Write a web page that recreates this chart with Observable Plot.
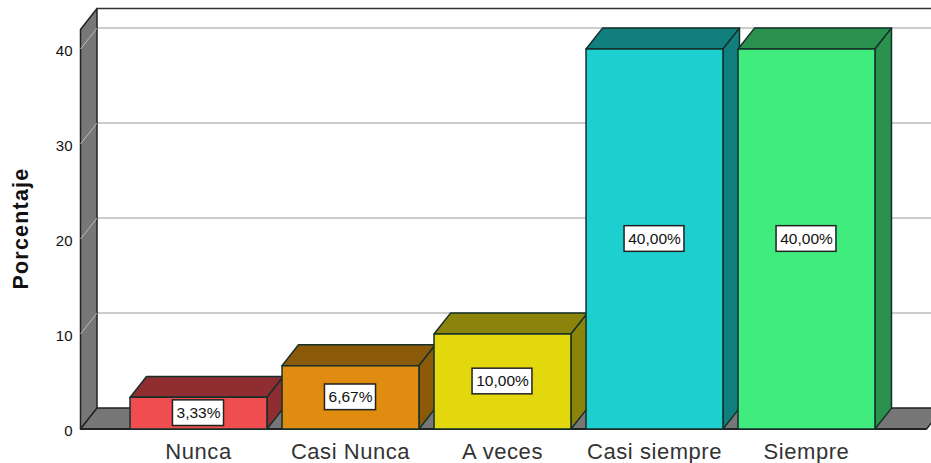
<!DOCTYPE html>
<html>
<head>
<meta charset="utf-8">
<style>html,body{margin:0;padding:0;background:#fff;overflow:hidden}
svg{display:block}
g[font-size="22"]{letter-spacing:.55px}
g[font-size="21.5"]{letter-spacing:1.2px}</style>
<script src="https://cdn.jsdelivr.net/npm/d3@7"></script>
<script src="https://cdn.jsdelivr.net/npm/@observablehq/plot@0.6"></script>
</head>
<body>
<div id="chart"></div>
<script>
const categories = ["Nunca", "Casi Nunca", "A veces", "Casi siempre", "Siempre"];
const values = [3.33, 6.67, 10, 40, 40];
const valueLabels = ["3,33%", "6,67%", "10,00%", "40,00%", "40,00%"];
const frontColors = ["#f04d50", "#e08c10", "#e3d70d", "#1dcfcf", "#40ec7d"];
const shadeColors = ["#8f2d30", "#8a5a08", "#8c840a", "#127f7f", "#2a924e"];
const yTicks = [0, 10, 20, 30, 40];

// 3D projection, in data units
const depthX = 0.1086, depthY = 2.2, barW = 0.901;
const yTopWall = 44.26;
const xL = -0.7763, xR = 4.79;

const faces = [];
const addFace = (key, color, pts) => {
  pts.concat([pts[0]]).forEach(([x, y]) => faces.push({key, color, x, y}));
};
addFace("wall", "#777777", [[xL, yTopWall - depthY], [xL + depthX, yTopWall], [xL + depthX, depthY], [xL, 0]]);
addFace("floor", "#777777", [[xL, 0], [xL + depthX, depthY], [xR + depthX, depthY], [xR, 0]]);
const bars = categories.map((c, i) => {
  const x0 = i - barW / 2, x1 = i + barW / 2, v = values[i];
  return {c, i, x0, x1, v};
});
const barFaces = [];
const addBar = (key, color, pts) => {
  pts.concat([pts[0]]).forEach(([x, y]) => barFaces.push({key, color, x, y}));
};
bars.forEach(b => {
  addBar("top" + b.i, shadeColors[b.i], [[b.x0, b.v], [b.x0 + depthX, b.v + depthY], [b.x1 + depthX, b.v + depthY], [b.x1, b.v]]);
  addBar("side" + b.i, shadeColors[b.i], [[b.x1, 0], [b.x1 + depthX, depthY], [b.x1 + depthX, b.v + depthY], [b.x1, b.v]]);
  addBar("front" + b.i, frontColors[b.i], [[b.x0, 0], [b.x0, b.v], [b.x1, b.v], [b.x1, 0]]);
});
const boxH = 1.35;
const boxW = i => values[i] < 10 ? 0.168 : 0.197;
const gridRows = yTicks.filter(t => t > 0);

const chart = Plot.plot({
  width: 931,
  height: 463,
  marginTop: 0, marginBottom: 0, marginLeft: 0, marginRight: 0,
  style: {background: "#fff", fontFamily: "Liberation Sans, Arial, sans-serif"},
  x: {type: "linear", domain: [-198 / 152, (931 - 198) / 152], range: [0, 931], axis: null},
  y: {type: "linear", domain: [(428.5 - 463) / 9.5, 428.5 / 9.5], range: [463, 0], axis: null},
  marks: [
    Plot.ruleY(gridRows, {y: d => d + depthY, x1: xL + depthX, x2: xR + 1, stroke: "#cccccc", strokeWidth: 2}),
    Plot.line(faces, {x: "x", y: "y", z: "key", fill: "color", stroke: "#222", strokeWidth: 1.5}),
    Plot.link(gridRows, {x1: xL, x2: xL + depthX, y1: d => d, y2: d => d + depthY, stroke: "#bbbbbb", strokeWidth: 1}),
    Plot.ruleY([yTopWall], {x1: xL + depthX, x2: xR + 1, stroke: "#333", strokeWidth: 1.5}),
    Plot.ruleY([0], {x1: xL, x2: xR, stroke: "#222", strokeWidth: 2}),
    Plot.line(barFaces, {x: "x", y: "y", z: "key", fill: "color", stroke: "#14302a", strokeWidth: 1.5}),
    Plot.rect(bars, {x1: d => d.i - boxW(d.i), x2: d => d.i + boxW(d.i), y1: d => d.v / 2 - boxH, y2: d => d.v / 2 + boxH, fill: "#fff", stroke: "#222", strokeWidth: 1.5}),
    Plot.text(bars, {x: "i", y: d => d.v / 2, text: d => valueLabels[d.i], fontSize: 15.5, fill: "#111"}),
    Plot.text(bars, {x: "i", y: 0, dy: 23, text: "c", fontSize: 22, fill: "#333"}),
    Plot.text(yTicks, {x: xL, y: d => d, dx: -8, dy: 2, text: d => String(d), textAnchor: "end", fontSize: 15, fill: "#111"}),
    Plot.text(["Porcentaje"], {x: xL, y: 21.1, dx: -59, rotate: -90, fontSize: 21.5, fontWeight: "bold", fill: "#111"})
  ]
});
document.getElementById("chart").appendChild(chart);
</script>
</body>
</html>
